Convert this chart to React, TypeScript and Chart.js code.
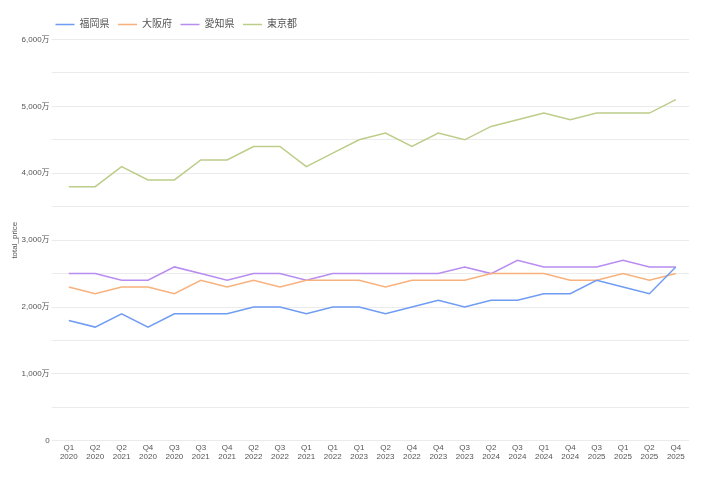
import React, { useEffect, useRef } from "react";
import { Chart, registerables } from "chart.js";

Chart.register(...registerables);

const categories: string[][] = [
  ["Q1", "2020"], ["Q2", "2020"], ["Q2", "2021"], ["Q4", "2020"], ["Q3", "2020"], ["Q3", "2021"],
  ["Q4", "2021"], ["Q2", "2022"], ["Q3", "2022"], ["Q1", "2021"], ["Q1", "2022"], ["Q1", "2023"],
  ["Q2", "2023"], ["Q4", "2022"], ["Q4", "2023"], ["Q3", "2023"], ["Q2", "2024"], ["Q3", "2024"],
  ["Q1", "2024"], ["Q4", "2024"], ["Q3", "2025"], ["Q1", "2025"], ["Q2", "2025"], ["Q4", "2025"],
];

const seriesNames = ["福岡県", "大阪府", "愛知県", "東京都"];

const fukuoka = [1800, 1700, 1900, 1700, 1900, 1900, 1900, 2000, 2000, 1900, 2000, 2000, 1900, 2000, 2100, 2000, 2100, 2100, 2200, 2200, 2400, 2300, 2200, 2600];
const osaka = [2300, 2200, 2300, 2300, 2200, 2400, 2300, 2400, 2300, 2400, 2400, 2400, 2300, 2400, 2400, 2400, 2500, 2500, 2500, 2400, 2400, 2500, 2400, 2500];
const aichi = [2500, 2500, 2400, 2400, 2600, 2500, 2400, 2500, 2500, 2400, 2500, 2500, 2500, 2500, 2500, 2600, 2500, 2700, 2600, 2600, 2600, 2700, 2600, 2600];
const tokyo = [3800, 3800, 4100, 3900, 3900, 4200, 4200, 4400, 4400, 4100, 4300, 4500, 4600, 4400, 4600, 4500, 4700, 4800, 4900, 4800, 4900, 4900, 4900, 5100];

const colors = ["#6f9cf3", "#f8b17c", "#b88cf0", "#bccd8a"];

const FONT = "'Liberation Sans', Arial, 'Noto Sans CJK JP', sans-serif";

const legendShift = {
  id: "legendShift",
  afterLayout(chart: any) {
    if (chart.legend) {
      const w = chart.legend.width;
      chart.legend.left = 47;
      chart.legend.right = 47 + w;
    }
  },
};

export default function App() {
  const ref = useRef<HTMLCanvasElement | null>(null);
  useEffect(() => {
    if (!ref.current) return;
    const values = [fukuoka, osaka, aichi, tokyo];
    const chart = new Chart(ref.current, {
      type: "line",
      data: {
        labels: categories,
        datasets: values.map((v, i) => ({
          label: seriesNames[i],
          data: v,
          borderColor: colors[i],
          backgroundColor: colors[i],
          borderWidth: 1.5,
          pointRadius: 0,
          pointHoverRadius: 0,
          tension: 0,
          fill: false,
          pointStyle: "line",
        })),
      },
      plugins: [legendShift],
      options: {
        animation: false,
        responsive: false,
        maintainAspectRatio: false,
        layout: { padding: { top: 11, left: 2, right: 31, bottom: 16 } },
        plugins: {
          tooltip: { enabled: false },
          legend: {
            position: "top",
            align: "start",
            labels: {
              usePointStyle: true,
              pointStyle: "line",
              pointStyleWidth: 19,
              boxHeight: 2,
              color: "#555",
              font: { family: FONT, size: 10 },
              padding: 8.5,
            },
          },
        },
        scales: {
          x: {
            offset: true,
            grid: { display: false, drawTicks: false },
            border: { display: false },
            ticks: {
              color: "#555",
              font: { family: FONT, size: 8 },
              maxRotation: 0,
              autoSkip: false,
              padding: 2,
            },
          },
          y: {
            min: 0,
            max: 6000,
            border: { display: false },
            grid: { color: "#ebebeb", lineWidth: 1, tickLength: 4 },
            title: {
              display: true,
              text: "total_price",
              color: "#555",
              font: { family: FONT, size: 8 },
              padding: { top: 8, bottom: 0 },
            },
            ticks: {
              stepSize: 500,
              color: "#555",
              font: { family: FONT, size: 8 },
              padding: 2,
              callback: (val: any) => {
                const n = Number(val);
                if (n % 1000 !== 0) return "";
                if (n === 0) return "0";
                return n.toLocaleString("en-US") + "万";
              },
            },
          },
        },
      },
    });
    return () => chart.destroy();
  }, []);
  return (
    <div style={{ position: "fixed", left: 0, top: 0, width: 720, height: 480, background: "#fff" }}>
      <canvas ref={ref} width={720} height={480} style={{ width: 720, height: 480 }} />
    </div>
  );
}
